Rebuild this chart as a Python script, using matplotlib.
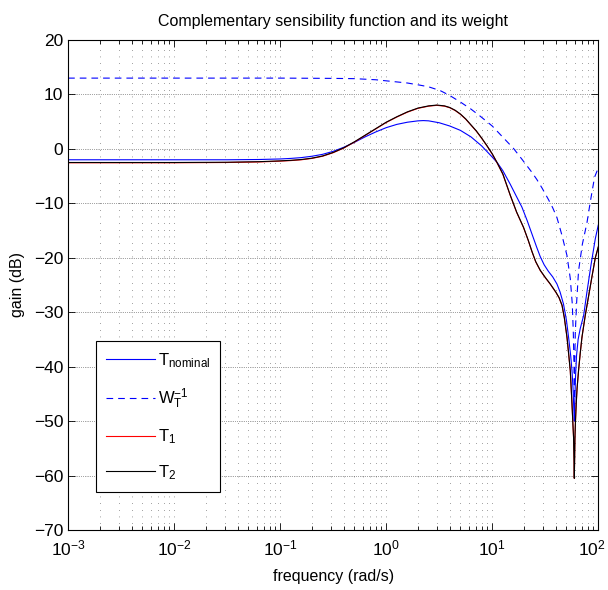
import numpy as np
import matplotlib
matplotlib.use("Agg")
import matplotlib.pyplot as plt
import matplotlib.transforms as mtransforms
from matplotlib.ticker import LogLocator, NullFormatter

plt.rcParams['font.family'] = ['Liberation Sans', 'DejaVu Sans']
plt.rcParams['mathtext.fontset'] = 'custom'
plt.rcParams['mathtext.rm'] = 'Liberation Sans'
plt.rcParams['mathtext.it'] = 'Liberation Sans'

title = "Complementary sensibility function and its weight"
xlabel = "frequency (rad/s)"
ylabel = "gain (dB)"
legend_labels = [r"$\mathregular{T_{nominal}}$", r"$\mathregular{W_T^{-1}}$",
                 r"$\mathregular{T_1}$", r"$\mathregular{T_2}$"]
yticks = [20, 10, 0, -10, -20, -30, -40, -50, -60, -70]

# T nominal (log10 frequency, gain dB)
tnom_logf = [-3.0, -2.0, -1.5, -1.2, -1.0, -0.9, -0.8, -0.7, -0.6, -0.5, -0.4, -0.3, -0.2,
             -0.1, 0.0, 0.1, 0.2, 0.3, 0.35, 0.4, 0.5, 0.6, 0.7, 0.8, 0.9, 1.0, 1.05, 1.1,
             1.17, 1.23, 1.28, 1.33, 1.374, 1.42, 1.453, 1.49, 1.53, 1.57, 1.61, 1.64,
             1.672, 1.70, 1.72, 1.74, 1.752, 1.762, 1.770, 1.774, 1.778, 1.785, 1.795,
             1.81, 1.83, 1.862, 1.893, 1.93, 1.972, 2.0]
tnom_db = [-2.0, -2.0, -2.0, -1.95, -1.85, -1.75, -1.6, -1.35, -1.0, -0.45, 0.3, 1.2, 2.2,
           3.1, 3.9, 4.5, 4.9, 5.15, 5.2, 5.15, 4.8, 4.2, 3.4, 2.2, 0.55, -1.5, -2.6, -4.0,
           -6.5, -8.8, -10.7, -13.2, -15.6, -18.1, -19.8, -21.3, -22.5, -23.5, -24.8, -26.3,
           -28.5, -31.5, -34.6, -38.0, -40.7, -44.0, -48.0, -50.0, -47.0, -42.0, -38.0,
           -35.0, -33.0, -30.6, -26.3, -21.5, -16.5, -14.0]

# W_T^{-1}
wt_logf = [-3.0, -1.0, -0.5, -0.3, -0.1, 0.0, 0.1, 0.2, 0.32, 0.4, 0.51, 0.6, 0.7, 0.8,
           0.887, 1.0, 1.107, 1.2, 1.28, 1.37, 1.42, 1.47, 1.53, 1.57, 1.61, 1.658, 1.705,
           1.736, 1.755, 1.765, 1.771, 1.774, 1.777, 1.783, 1.795, 1.814, 1.85, 1.893,
           1.925, 1.965, 2.0]
wt_db = [13.0, 13.0, 12.95, 12.9, 12.7, 12.5, 12.3, 12.1, 11.7, 11.4, 10.7, 9.8, 8.6, 7.3,
         6.0, 4.2, 2.0, 0.1, -1.9, -4.2, -5.6, -7.2, -9.3, -10.8, -12.6, -15.9, -19.6,
         -23.8, -28.5, -34.0, -40.0, -46.0, -40.0, -34.0, -28.5, -22.4, -17.5, -13.6,
         -9.7, -5.2, -3.5]

# T2
t2_logf = [-3.0, -2.0, -1.5, -1.2, -1.0, -0.9, -0.8, -0.7, -0.6, -0.5, -0.4, -0.3, -0.2,
           -0.1, 0.0, 0.1, 0.2, 0.3, 0.4, 0.478, 0.55, 0.6, 0.65, 0.7, 0.75, 0.8, 0.85, 0.9,
           0.95, 1.0, 1.044, 1.1, 1.17, 1.23, 1.295, 1.34, 1.374, 1.41, 1.453, 1.5, 1.547,
           1.6, 1.63, 1.658, 1.68, 1.705, 1.72, 1.736, 1.752, 1.762, 1.767, 1.771, 1.774,
           1.777, 1.78, 1.785, 1.792, 1.8, 1.814, 1.83, 1.846, 1.877, 1.909, 1.94, 1.972, 2.0]
t2_db = [-2.5, -2.5, -2.45, -2.35, -2.2, -2.1, -1.95, -1.7, -1.3, -0.65, 0.2, 1.3, 2.5,
         3.7, 4.9, 5.9, 6.8, 7.5, 7.9, 8.05, 7.9, 7.6, 7.1, 6.4, 5.5, 4.4, 3.3, 2.0,
         0.6, -0.9, -2.45, -4.6, -8.5, -11.6, -14.4, -16.8, -18.8, -20.7, -22.3, -23.6, -24.8,
         -26.3, -27.3, -28.7, -31.0, -34.6, -37.5, -40.7, -46.8, -51.0, -53.0, -57.0, -60.5,
         -57.0, -53.0, -50.0, -46.8, -44.0, -40.7, -37.5, -34.6, -30.6, -27.0, -23.5, -20.0, -18.0]

# T1 (almost identical to T2)
t1_logf = t2_logf
t1_db = [-2.55, -2.55, -2.5, -2.4, -2.25, -2.15, -2.0, -1.75, -1.35, -0.7, 0.15, 1.25, 2.45,
         3.65, 4.85, 5.85, 6.75, 7.45, 7.85, 8.0, 7.85, 7.55, 7.05, 6.35, 5.45, 4.35, 3.25, 1.95,
         0.55, -0.95, -2.5, -4.65, -8.55, -11.65, -14.45, -16.85, -18.85, -20.75, -22.35, -23.65,
         -24.85, -26.35, -27.35, -28.75, -31.05, -34.65, -37.55, -40.75, -46.85, -51.05, -53.05,
         -57.05, -60.5, -57.05, -53.05, -50.05, -46.85, -44.05, -40.75, -37.55, -34.65, -30.65,
         -27.05, -23.55, -20.05, -18.05]

fig = plt.figure(figsize=(6.08, 5.90), dpi=100)
ax = fig.add_axes([0.112, 0.1017, 0.872, 0.8305])

f = lambda lf: 10.0 ** np.asarray(lf)
ax.plot(f(tnom_logf), tnom_db, color=(0, 0, 1), lw=0.8, label=legend_labels[0])
ax.plot(f(wt_logf), wt_db, color=(0, 0, 1), lw=0.8, dashes=(6, 4.5), label=legend_labels[1])
ax.plot(f(t1_logf), t1_db, color=(1, 0, 0), lw=0.8, label=legend_labels[2])
ax.plot(f(t2_logf), t2_db, color='black', lw=0.8, label=legend_labels[3])

ax.set_xscale('log')
ax.set_xlim(1e-3, 1e2)
ax.set_ylim(-70, 20)
ax.set_yticks(yticks)
ax.set_yticklabels([str(v).replace('-', '\u2212') for v in yticks])
ax.xaxis.set_major_locator(LogLocator(base=10, numticks=10))
ax.xaxis.set_minor_locator(LogLocator(base=10, subs=np.arange(2, 10), numticks=20))
ax.xaxis.set_minor_formatter(NullFormatter())

ax.tick_params(which='both', direction='in', top=True, right=True, labelsize=12.5)
ax.tick_params(axis='x', which='major', pad=6)
ax.tick_params(which='major', length=5, width=0.6)
ax.tick_params(which='minor', length=3, width=0.6)

ax.grid(True, which='major', axis='y', color='black', lw=0.6, linestyle=(0, (0.5, 1.7)))
ax.grid(True, which='both', axis='x', color='black', lw=0.6, linestyle=(0, (0.5, 7.5)))
for s in ax.spines.values():
    s.set_linewidth(0.8)

ax.set_title(title, fontsize=11.5, pad=10)
ax.set_xlabel(xlabel, fontsize=11.5, labelpad=8)
ax.set_ylabel(ylabel, fontsize=11.5, labelpad=6)

fig.canvas.draw()
xlabels = ax.get_xticklabels()
for t in xlabels:
    if t.get_position()[0] >= 99:
        t.set_transform(t.get_transform() + mtransforms.ScaledTranslation(-6 / 100, 0, fig.dpi_scale_trans))

leg = ax.legend(loc='lower left', bbox_to_anchor=(0.053, 0.078), fontsize=12,
                frameon=True, fancybox=False, framealpha=1, edgecolor='black',
                handlelength=2.9, handletextpad=0.2, labelspacing=1.0, borderpad=0.6,
                borderaxespad=0)
leg.get_frame().set_linewidth(0.8)

fig.savefig("out.png", dpi=100)
